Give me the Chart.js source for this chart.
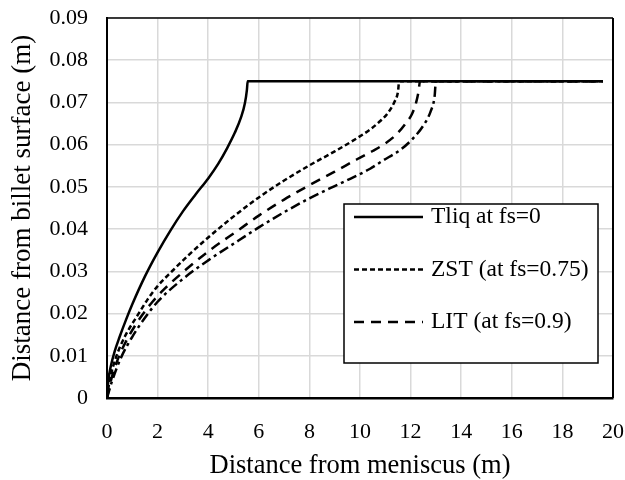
<!DOCTYPE html>
<html>
  <head>
    <title>Solidification fronts along the billet</title>
    <script src="https://cdn.jsdelivr.net/npm/chart.js@4.4.1/dist/chart.umd.min.js"></script>
    <style>
      body { margin: 0; background: #fff; }
      #container { width: 625px; height: 480px; }
    </style>
  </head>

  <body>
    <div id="container">
      <canvas id="canvas" width="625" height="480"></canvas>
    </div>
    <script>
      // x = distance from meniscus (m), y = distance from billet surface (m)
      const tliqX = [0, 0.05, 0.15, 0.3, 0.5, 0.75, 1.0, 1.5, 2.0, 2.5, 3.0, 3.5, 4.0, 4.4, 4.75, 5.05, 5.3, 5.45, 5.53, 5.56, 19.6];
      const tliqY = [0, 0.004, 0.0075, 0.011, 0.0145, 0.0185, 0.0222, 0.0288, 0.0345, 0.0396, 0.0442, 0.0482, 0.052, 0.0555, 0.0592, 0.0628, 0.0665, 0.0698, 0.073, 0.075, 0.075];

      const zstX = [0, 0.1, 0.35, 0.7, 1.2, 1.6, 2.0, 2.6, 3.2, 4.0, 4.9, 6.0, 7.0, 8.0, 9.0, 9.9, 10.4, 10.8, 11.1, 11.35, 11.5, 11.55, 19.6];
      const zstY = [0, 0.004, 0.0095, 0.0145, 0.0195, 0.0233, 0.0265, 0.0302, 0.0337, 0.038, 0.0425, 0.0475, 0.0515, 0.0551, 0.0584, 0.0616, 0.0636, 0.0656, 0.0675, 0.07, 0.0725, 0.075, 0.075];

      const litX = [0, 0.15, 0.45, 0.85, 1.35, 1.8, 2.3, 3.0, 4.0, 5.2, 6.0, 7.0, 8.0, 9.0, 9.9, 10.5, 11.0, 11.45, 11.8, 12.05, 12.22, 12.32, 12.37, 19.6];
      const litY = [0, 0.004, 0.0095, 0.0145, 0.0193, 0.0228, 0.026, 0.0298, 0.0347, 0.0398, 0.0432, 0.047, 0.0504, 0.0536, 0.0566, 0.0585, 0.0603, 0.0625, 0.065, 0.0672, 0.07, 0.0728, 0.075, 0.075];

      // fourth curve, not listed in the legend box
      const dashDotX = [0, 0.2, 0.55, 1.0, 1.5, 2.0, 3.0, 4.0, 5.2, 6.0, 7.0, 8.0, 9.0, 9.75, 10.4, 10.9, 11.6, 12.05, 12.5, 12.8, 12.95, 13.0, 19.6];
      const dashDotY = [0, 0.004, 0.0095, 0.0145, 0.019, 0.0228, 0.0282, 0.0326, 0.0373, 0.0404, 0.044, 0.0473, 0.0502, 0.0523, 0.0543, 0.0562, 0.0588, 0.0612, 0.0645, 0.068, 0.0715, 0.075, 0.075];

      const seriesLabels = ['Tliq at fs=0', 'ZST (at fs=0.75)', 'LIT (at fs=0.9)', 'SIT'];

      const pts = (xs, ys) => xs.map((x, i) => ({ x: x, y: ys[i] }));
      const serif = "'Liberation Serif', 'Times New Roman', serif";

      // top/right frame of the plot area
      const frame = {
        id: 'frame',
        afterDatasetsDraw(chart) {
          const { ctx, chartArea: a } = chart;
          ctx.save();
          ctx.strokeStyle = '#000';
          ctx.lineWidth = 1.5;
          ctx.beginPath();
          ctx.moveTo(a.left, a.top);
          ctx.lineTo(a.right, a.top);
          ctx.stroke();
          ctx.lineWidth = 2;
          ctx.beginPath();
          ctx.moveTo(a.right, a.top);
          ctx.lineTo(a.right, a.bottom);
          ctx.stroke();
          ctx.restore();
        },
      };

      // boxed legend inside the plot, only the first three series
      const boxLegend = {
        id: 'boxLegend',
        afterDraw(chart) {
          const { ctx, chartArea: a } = chart;
          const x0 = a.left + 237, y0 = a.top + 186, w = 254, h = 159;
          ctx.save();
          ctx.fillStyle = '#fff';
          ctx.fillRect(x0, y0, w, h);
          ctx.strokeStyle = '#000';
          ctx.lineWidth = 1.5;
          ctx.strokeRect(x0, y0, w, h);
          chart.data.datasets.slice(0, 3).forEach((ds, i) => {
            const y = y0 + 13 + i * 52.5;
            ctx.lineWidth = 2.5;
            ctx.setLineDash(ds.borderDash || []);
            ctx.beginPath();
            ctx.moveTo(x0 + 10, y);
            ctx.lineTo(x0 + 79, y);
            ctx.stroke();
            ctx.setLineDash([]);
            ctx.fillStyle = '#000';
            ctx.font = '23.5px ' + serif;
            ctx.textBaseline = 'middle';
            ctx.fillText(ds.label, x0 + 87, y);
          });
          ctx.restore();
        },
      };

      window.onload = () => {
        const ctx = document.getElementById('canvas').getContext('2d');
        Chart.defaults.font.family = serif;
        Chart.defaults.color = '#000';
        const line = (label, xs, ys, dash) => ({
          label: label,
          data: pts(xs, ys),
          borderColor: '#000',
          borderWidth: 2.5,
          borderDash: dash,
          pointRadius: 0,
          fill: false,
          cubicInterpolationMode: 'monotone',
        });
        window.myChart = new Chart(ctx, {
          type: 'line',
          data: {
            datasets: [
              line(seriesLabels[0], tliqX, tliqY, []),
              line(seriesLabels[1], zstX, zstY, [5, 3]),
              line(seriesLabels[2], litX, litY, [10, 7]),
              line(seriesLabels[3], dashDotX, dashDotY, [10, 4, 3, 4]),
            ],
          },
          options: {
            responsive: false,
            animation: false,
            layout: { padding: { top: 18, right: 12, bottom: 0, left: 0 } },
            plugins: {
              legend: { display: false },
              tooltip: { enabled: false },
            },
            scales: {
              x: {
                type: 'linear',
                min: 0,
                max: 20,
                ticks: { stepSize: 2, padding: 23, font: { size: 22, lineHeight: 1 } },
                grid: { color: '#d9d9d9', lineWidth: 1.5, drawTicks: false },
                border: { color: '#000', width: 2.5 },
                title: {
                  display: true,
                  text: 'Distance from meniscus (m)',
                  font: { size: 26.5, lineHeight: 1 },
                  padding: { top: 0, bottom: 1 },
                },
                afterFit: (scale) => {
                  scale.height = 82;
                  scale.paddingLeft = 0;
                  scale.paddingRight = 0;
                },
              },
              y: {
                min: 0,
                max: 0.09,
                ticks: {
                  stepSize: 0.01,
                  padding: 19,
                  font: { size: 22, lineHeight: 1 },
                  callback: (v) => String(+v.toFixed(2)),
                },
                grid: { color: '#d9d9d9', lineWidth: 1.5, drawTicks: false },
                border: { color: '#000', width: 2 },
                title: {
                  display: true,
                  text: 'Distance from billet surface (m)',
                  font: { size: 27, lineHeight: 1 },
                  padding: { top: 9, bottom: 0 },
                },
                afterFit: (scale) => {
                  scale.width = 107;
                  scale.paddingTop = 0;
                  scale.paddingBottom = 0;
                },
              },
            },
          },
          plugins: [frame, boxLegend],
        });
      };
    </script>
  </body>
</html>
